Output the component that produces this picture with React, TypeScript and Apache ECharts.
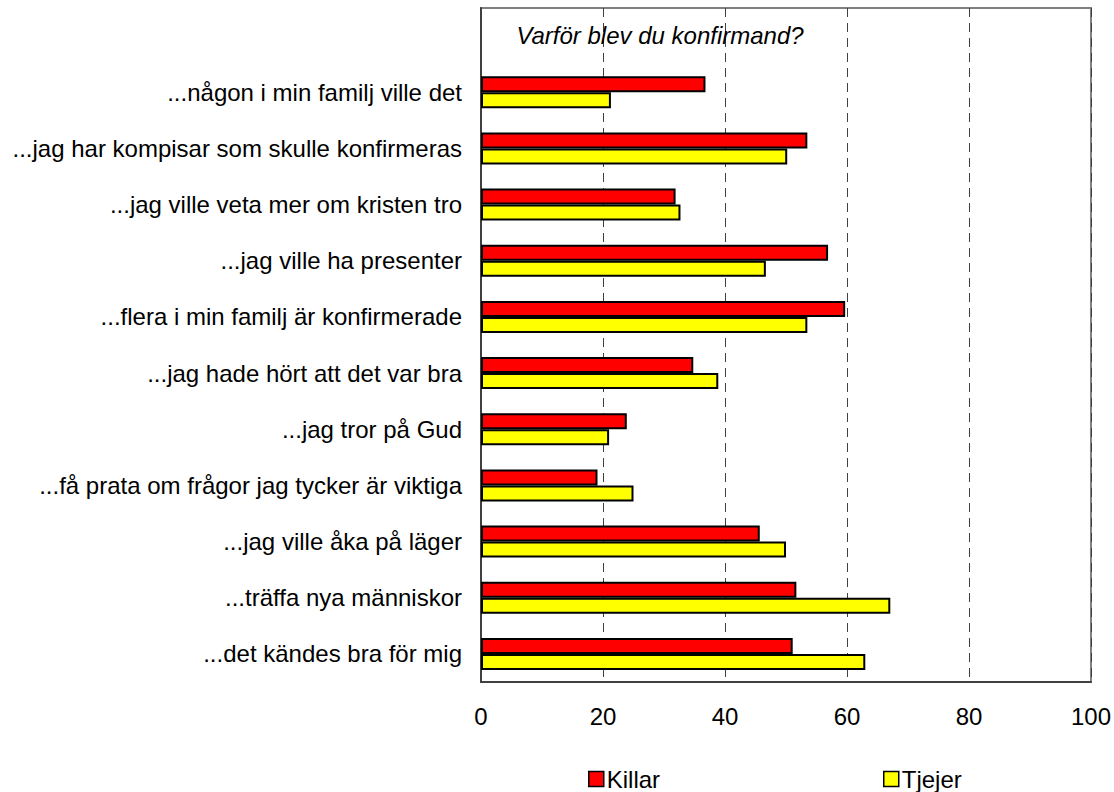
import React, { useEffect, useRef } from "react";
import * as echarts from "echarts";

const categories: string[] = [
  "...någon i min familj ville det",
  "...jag har kompisar som skulle konfirmeras",
  "...jag ville veta mer om kristen tro",
  "...jag ville ha presenter",
  "...flera i min familj är konfirmerade",
  "...jag hade hört att det var bra",
  "...jag tror på Gud",
  "...få prata om frågor jag tycker är viktiga",
  "...jag ville åka på läger",
  "...träffa nya människor",
  "...det kändes bra för mig",
];

const killar: number[] = [36.8, 53.5, 31.9, 56.9, 59.7, 34.8, 23.9, 19.1, 45.7, 51.7, 51.1];
const tjejer: number[] = [21.3, 50.2, 32.7, 46.7, 53.5, 38.9, 21.0, 25.0, 50.0, 67.1, 63.0];

const title = "Varför blev du konfirmand?";
const FONT = "'Liberation Sans', Arial, sans-serif";

export default function App() {
  const ref = useRef<HTMLDivElement>(null);
  useEffect(() => {
    if (!ref.current) return;
    const chart = echarts.init(ref.current, null, { renderer: "svg" });
    const yData = ["", ...categories];
    const legendBase = {
      top: 765,
      itemWidth: 15,
      itemHeight: 15,
      itemGap: 5,
      padding: 0,
      icon: "rect",
      itemStyle: { borderColor: "#000", borderWidth: 1.5 },
      textStyle: { fontFamily: FONT, fontSize: 24, color: "#000", lineHeight: 28, padding: [0, 0, 0, -2] },
    };
    const option: any = {
      animation: false,
      backgroundColor: "#ffffff",
      textStyle: { fontFamily: FONT },
      title: {
        text: title,
        left: 660,
        top: 23,
        padding: 0,
        textAlign: "center",
        textStyle: { fontFamily: FONT, fontSize: 24, fontStyle: "italic", fontWeight: "normal", color: "#000" },
      },
      legend: [
        { ...legendBase, data: ["Killar"], left: 588 },
        { ...legendBase, data: ["Tjejer"], left: 883 },
      ],
      grid: {
        left: 481,
        right: 22,
        top: 8,
        bottom: 110,
        show: true,
        borderColor: "#808080",
        borderWidth: 2,
        backgroundColor: "#ffffff",
      },
      xAxis: {
        type: "value",
        min: 0,
        max: 100,
        interval: 20,
        axisLine: { show: true, lineStyle: { color: "#404040", width: 2 } },
        axisTick: { show: false },
        axisLabel: { fontFamily: FONT, fontSize: 24, color: "#000", margin: 22 },
        splitLine: { show: true, lineStyle: { color: "#404040", width: 1, type: [9, 6] } },
      },
      yAxis: {
        type: "category",
        inverse: true,
        data: yData,
        axisLine: { show: true, lineStyle: { color: "#404040", width: 2 } },
        axisTick: { show: false },
        axisLabel: { fontFamily: FONT, fontSize: 24, color: "#000", margin: 19 },
        splitLine: { show: false },
      },
      series: [
        {
          name: "Killar",
          type: "bar",
          data: [null, ...killar],
          barWidth: 16,
          barGap: "0%",
          itemStyle: { color: "#ff0000", borderColor: "#000", borderWidth: 2 },
        },
        {
          name: "Tjejer",
          type: "bar",
          data: [null, ...tjejer],
          barWidth: 16,
          barGap: "0%",
          itemStyle: { color: "#ffff00", borderColor: "#000", borderWidth: 2 },
        },
      ],
    };
    chart.setOption(option);
    return () => chart.dispose();
  }, []);
  return <div ref={ref} style={{ width: 1114, height: 792, position: "absolute", left: 0, top: 0 }} />;
}
